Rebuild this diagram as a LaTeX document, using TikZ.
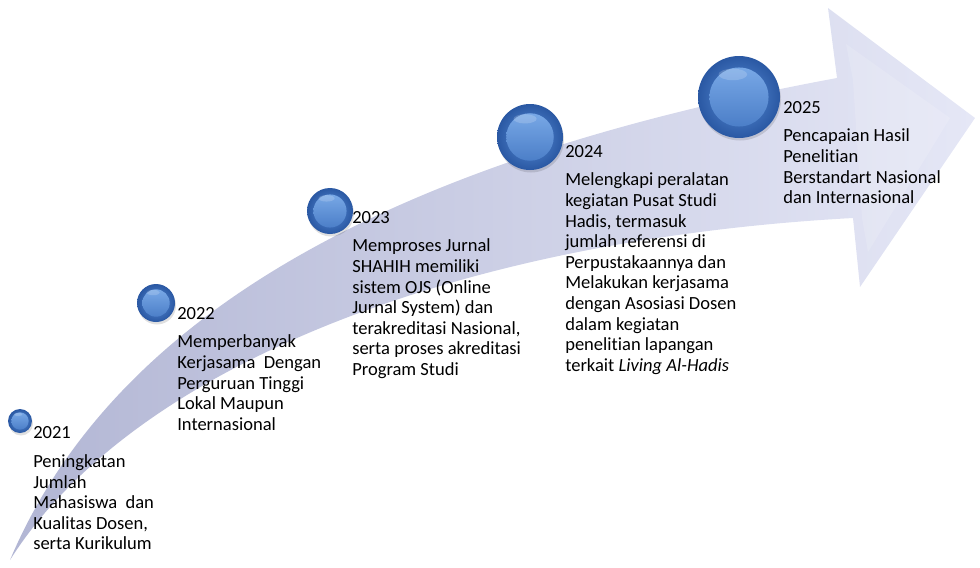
\documentclass[tikz,border=0pt]{standalone}
\usepackage{fontspec}
\setmainfont{Carlito}[Ligatures=NoCommon]
\usepackage{xcolor}
\usetikzlibrary{positioning, calc}

\definecolor{panahkiri}{HTML}{B2B6D4}
\definecolor{panahtengah}{HTML}{D5D8EF}
\definecolor{panahkanan}{HTML}{E5E7F6}
\definecolor{bolaluar}{HTML}{2A58A3}
\definecolor{bolatengah}{HTML}{5A8FD8}
\definecolor{bolaterang}{HTML}{78A8E6}

\tikzset{
  tahun/.style={anchor=base west, inner sep=0pt, font=\fontsize{13.9}{15.45}\selectfont},
  ket/.style={anchor=north west, inner sep=0pt, align=left, font=\fontsize{13.9}{15.45}\selectfont},
}

% bola: name, x, y, radius (px)
\newcommand{\bola}[4]{%
  \fill[black, opacity=0.12] (#2+1,#3+2.5) circle (#4);
  \shade[inner color=bolatengah, outer color=bolaluar] (#2,#3) circle (#4);
  \shade[top color=bolaterang, bottom color=bolatengah!70!bolaluar] (#2,#3) circle (0.72*#4);
  \fill[white, opacity=0.18] (#2-0.15*#4,#3-0.55*#4) ellipse (0.35*#4 and 0.14*#4);
  \node[circle, inner sep=0pt, minimum size={1.5pt*#4}] (#1) at (#2,#3) {};
}

\begin{document}
\begin{tikzpicture}[x=0.75pt, y=-0.75pt]
      \useasboundingbox (0,0) rectangle (980,567);

      % arrow
      \shade[left color=panahkiri, middle color=panahtengah, right color=panahkanan]
        (10,560) .. controls (120,300) and (420,155) .. (837,78)
        -- (828,8) -- (975,118) -- (860,287) -- (853,218)
        .. controls (450,240) and (130,370) .. (10,560) -- cycle;
      \fill[white, opacity=0.15] (846,44) -- (950,118) -- (868,252) -- (862,218) -- (853,80) -- cycle;

      % spheres
      \bola{b21}{20}{421}{12}
      \bola{b22}{156}{303}{19}
      \bola{b23}{330}{211}{23}
      \bola{b24}{530}{137}{33}
      \bola{b25}{739}{97}{41}

      % 2021
      \node[tahun] (t21) at (33,438.5) {2021};
      \node[ket] (k21) at (33,452.8) {\strut Peningkatan\\Jumlah\\Mahasiswa\ \ dan\\Kualitas Dosen,\\serta Kurikulum};

      % 2022
      \node[tahun] (t22) at (177,319) {2022};
      \node[ket] (k22) at (177,333.3) {\strut Memperbanyak\\Kerjasama\ \ Dengan\\Perguruan Tinggi\\Lokal Maupun\\Internasional};

      % 2023
      \node[tahun] (t23) at (352,223) {2023};
      \node[ket] (k23) at (352,237.3) {\strut Memproses Jurnal\\SHAHIH memiliki\\sistem OJS (Online\\Jurnal System) dan\\terakreditasi Nasional,\\serta proses akreditasi\\Program Studi};

      % 2024
      \node[tahun] (t24) at (565,157) {2024};
      \node[ket] (k24) at (565,171.3) {\strut Melengkapi peralatan\\kegiatan Pusat Studi\\Hadis, termasuk\\jumlah referensi di\\Perpustakaannya dan\\Melakukan kerjasama\\dengan Asosiasi Dosen\\dalam kegiatan\\penelitian lapangan\\terkait \textit{Living Al-Hadis}};

      % 2025
      \node[tahun] (t25) at (783,113) {2025};
      \node[ket] (k25) at (783,127.3) {\strut Pencapaian Hasil\\Penelitian\\Berstandart Nasional\\dan Internasional};

\end{tikzpicture}
\end{document}
